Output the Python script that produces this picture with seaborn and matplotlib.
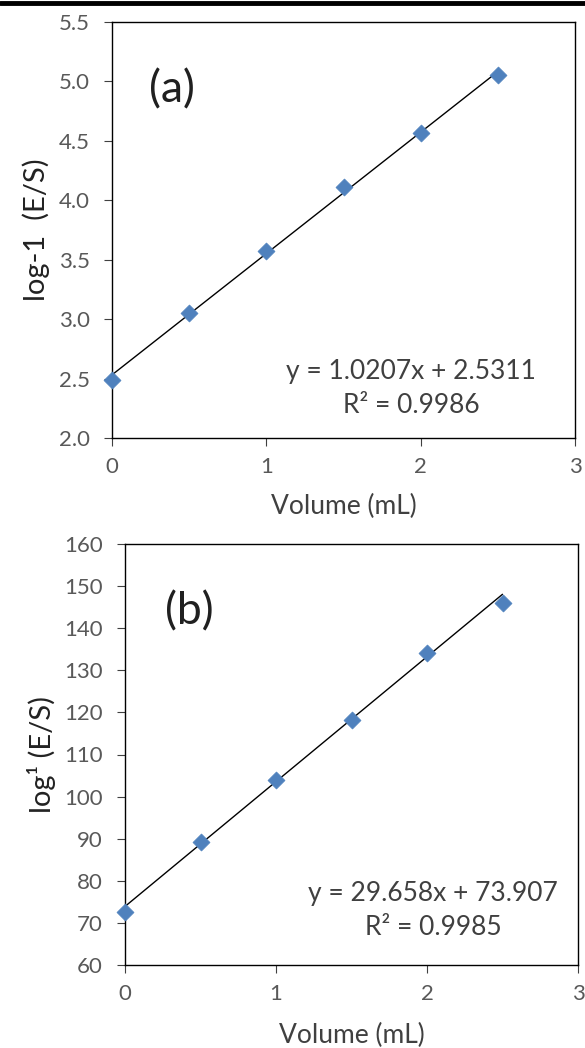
import matplotlib
matplotlib.use("Agg")
import matplotlib.pyplot as plt
import seaborn as sns
import pandas as pd
import numpy as np
from matplotlib.lines import Line2D

# ---- data ----
volume = [0.0, 0.5, 1.0, 1.5, 2.0, 2.5]
values_a = [2.49, 3.05, 3.57, 4.11, 4.57, 5.05]
values_b = [72.7, 89.1, 104.0, 118.3, 134.0, 146.1]
fit_a = (1.0207, 2.5311)
fit_b = (29.658, 73.907)
eq_a = ["y = 1.0207x + 2.5311", "R² = 0.9986"]
eq_b = ["y = 29.658x + 73.907", "R² = 0.9985"]
xticks = [0, 1, 2, 3]
yticks_a = [2.0, 2.5, 3.0, 3.5, 4.0, 4.5, 5.0, 5.5]
yticks_b = [60, 70, 80, 90, 100, 110, 120, 130, 140, 150, 160]
ylabel_a = "log-1  (E/S)"
ylabel_b = "log¹ (E/S)"
xlabel = "Volume (mL)"
panel_labels = ["(a)", "(b)"]

sns.set_theme(style="white")
plt.rcParams['font.family'] = ['Lato', 'DejaVu Sans']

W, H = 585, 1048
fig = plt.figure(figsize=(W / 100, H / 100), dpi=100)

def axes_px(l, t, r, b):
    return fig.add_axes([l / W, 1 - b / H, (r - l) / W, (b - t) / H])

ax_a = axes_px(112, 22, 575, 438)
ax_b = axes_px(125, 544, 578, 965)

marker_color = "#4F81BD"
tick_color = "#595959"

def draw(ax, vals, fit, eq, yticks, ylabel, plabel, eq_pos, plabel_pos, ypad, xlpad):
    df = pd.DataFrame({"Volume": volume, "Value": vals})
    xs = np.array([volume[0], volume[-1]])
    ax.plot(xs, fit[0] * xs + fit[1], color="black", lw=1.0, zorder=2)
    sns.scatterplot(data=df, x="Volume", y="Value", ax=ax, marker="D",
                    s=75, color=marker_color, edgecolor=marker_color,
                    linewidth=0.5, zorder=3, clip_on=False)
    ax.set_xlim(0, 3)
    ax.set_ylim(yticks[0], yticks[-1])
    ax.set_xticks(xticks)
    ax.set_yticks(yticks)
    if isinstance(yticks[0], float):
        ax.set_yticklabels([f"{t:.1f}" for t in yticks])
    ax.tick_params(axis="both", direction="out", length=6, width=0.8,
                   color="#404040", labelsize=16, labelcolor=tick_color,
                   left=True, bottom=True)
    ax.tick_params(axis="x", pad=8)
    ax.tick_params(axis="y", pad=ypad)
    for sp in ax.spines.values():
        sp.set_visible(True)
        sp.set_color("black")
        sp.set_linewidth(1.0)
    ax.set_xlabel(xlabel, fontsize=19, color="#404040", labelpad=xlpad)
    ax.set_ylabel(ylabel, fontsize=21, color="#222222", labelpad=6)
    ax.text(plabel_pos[0], plabel_pos[1], plabel, transform=ax.transAxes,
            fontsize=32, color="#202020", ha="left", va="center")
    ax.text(eq_pos[0], eq_pos[1], eq[0] + "\n" + eq[1], transform=ax.transAxes,
            fontsize=19, color="#404040", ha="center", va="center",
            linespacing=1.45)

draw(ax_a, values_a, fit_a, eq_a, yticks_a, ylabel_a, panel_labels[0],
     (0.646, 0.12), (0.08, 0.837), 10, 12)
draw(ax_b, values_b, fit_b, eq_b, yticks_b, ylabel_b, panel_labels[1],
     (0.68, 0.13), (0.088, 0.84), 10, 13)

fig.add_artist(Line2D([0, 1], [1 - 2.5 / H, 1 - 2.5 / H], color="black",
                      lw=3.5, transform=fig.transFigure))

fig.savefig("out.png", dpi=100, facecolor="white")
